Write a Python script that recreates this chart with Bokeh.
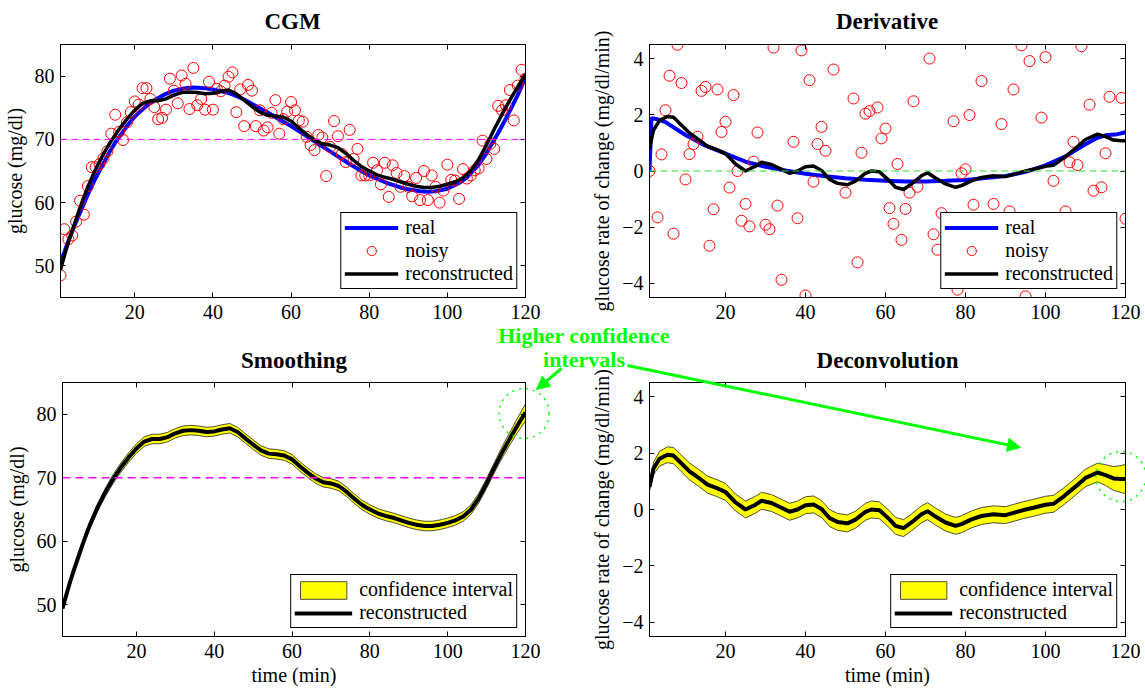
from bokeh.plotting import figure
from bokeh.models import (Range1d, LinearAxis, FixedTicker, Span, Label, Arrow,
                          NormalHead, GridBox, CustomJSTickFormatter)
from bokeh.embed import file_html
from bokeh.resources import INLINE

# ---------------- data ----------------
panel_titles = ["CGM", "Derivative", "Smoothing", "Deconvolution"]
x_ticks = [20, 40, 60, 80, 100, 120]
gluc_ticks = [50, 60, 70, 80]
deriv_ticks = [-4, -2, 0, 2, 4]
hypo_threshold = 70

# real glucose
real_t = [1, 3, 5, 8, 10, 13, 15, 18, 20, 23, 25, 28, 30, 33, 35, 38, 40, 43, 45, 48, 50,
          53, 55, 58, 60, 63, 65, 68, 70, 73, 75, 78, 80, 83, 85, 88, 90, 93, 95, 97, 100,
          103, 105, 108, 110, 113, 115, 118, 120]
real_g = [50.5, 53.9, 57.0, 61.3, 63.9, 67.4, 69.5, 72.1, 73.6, 75.3, 76.2, 77.2, 77.7, 78.1,
          78.2, 78.1, 77.9, 77.5, 77.1, 76.3, 75.6, 74.6, 73.9, 72.8, 72.1, 70.9, 70.1, 68.9,
          68.1, 66.9, 66.1, 65.0, 64.3, 63.5, 63.0, 62.4, 62.1, 61.8, 61.7, 61.8, 62.2, 63.1,
          64.0, 66.0, 67.8, 71.0, 73.3, 77.0, 79.8]

# noisy glucose, one sample per minute (1..120)
noisy_t = list(range(1, 121))
noisy_g = [48.5, 55.8, 54.2, 54.8, 57.0, 60.3, 58.1, 62.6, 65.6, 65.6,
           66.1, 67.0, 68.1, 70.9, 73.9, 71.2, 69.9, 72.7, 74.3, 76.0,
           75.5, 78.1, 78.1, 76.4, 75.1, 73.2, 73.4, 74.7, 79.6, 77.7,
           75.7, 80.1, 78.8, 74.8, 81.3, 75.4, 76.4, 74.7, 79.1, 74.7,
           78.0, 77.6, 78.5, 79.9, 80.6, 74.3, 77.9, 72.1, 78.6, 77.7,
           72.1, 74.6, 71.4, 71.9, 74.2, 76.2, 70.9, 73.2, 74.4, 75.9,
           74.6, 73.0, 72.8, 70.4, 69.1, 68.3, 70.7, 70.3, 64.2, 68.8,
           72.9, 70.5, 67.7, 66.4, 71.5, 66.9, 68.5, 64.3, 64.3, 64.3,
           66.3, 65.1, 62.9, 66.3, 60.9, 65.9, 64.7, 62.5, 64.2, 62.5,
           61.0, 63.9, 60.4, 65.0, 60.4, 64.3, 62.5, 60.0, 61.9, 66.0,
           63.6, 63.5, 60.6, 65.3, 63.8, 64.3, 65.1, 65.4, 69.8, 66.9,
           69.3, 68.5, 75.3, 74.6, 75.4, 77.8, 73.0, 78.5, 81.0, 79.6]

# reconstructed glucose (smoothing) and its confidence half-width
rec_t = [1, 2, 3, 4, 5, 6, 7, 8, 10, 12, 14, 16, 18, 20, 22, 24, 26, 28, 30, 32, 34, 36,
         38, 40, 42, 44, 46, 48, 50, 52, 54, 56, 58, 60, 62, 64, 66, 68, 70, 72, 74, 76,
         78, 80, 82, 84, 86, 88, 90, 92, 94, 96, 98, 100, 102, 104, 106, 108, 110, 112,
         114, 116, 118, 120]
rec_g = [49.4, 51.6, 53.7, 55.6, 57.4, 59.2, 60.9, 62.5, 65.3, 67.7, 69.8, 71.6, 73.2, 74.6,
         75.7, 76.1, 76.1, 76.4, 77.0, 77.4, 77.5, 77.4, 77.2, 77.3, 77.6, 77.8, 77.2, 76.2,
         75.2, 74.3, 73.8, 73.7, 73.5, 72.9, 71.8, 70.8, 69.9, 69.3, 69.1, 68.7, 67.8, 66.7,
         65.7, 65.0, 64.4, 64.0, 63.7, 63.3, 62.9, 62.6, 62.4, 62.4, 62.6, 62.9, 63.3, 63.9,
         65.0, 66.8, 69.1, 71.6, 74.0, 76.2, 78.3, 80.3]
rec_g_ci = [0.2, 0.25, 0.3, 0.35, 0.4, 0.45, 0.5, 0.55, 0.6, 0.65, 0.7, 0.72, 0.75, 0.75,
            0.75, 0.75, 0.75, 0.75, 0.75, 0.75, 0.75, 0.75, 0.75, 0.75, 0.75, 0.75, 0.75, 0.75,
            0.75, 0.75, 0.75, 0.75, 0.75, 0.75, 0.75, 0.75, 0.75, 0.75, 0.75, 0.75, 0.75, 0.75,
            0.75, 0.75, 0.75, 0.75, 0.75, 0.75, 0.75, 0.75, 0.75, 0.75, 0.75, 0.75, 0.75, 0.75,
            0.75, 0.76, 0.78, 0.8, 0.9, 1.0, 1.15, 1.35]

# real derivative
rd_t = [1, 1.5, 3, 5, 10, 15, 20, 25, 30, 35, 40, 45, 50, 55, 60, 65, 70, 75, 80, 85, 90,
        95, 100, 105, 110, 113, 115, 118, 120]
rd_v = [0.0, 1.88, 1.84, 1.74, 1.28, 0.9, 0.62, 0.33, 0.15, 0.02, -0.1, -0.19, -0.26, -0.31,
        -0.35, -0.37, -0.37, -0.35, -0.32, -0.25, -0.18, -0.03, 0.2, 0.52, 0.95, 1.18, 1.27,
        1.31, 1.38]

# noisy derivative (points inside the visible range)
nd_t = [1, 3, 4, 5, 6, 7, 8, 9, 10, 11, 12, 13, 14, 15, 16, 17, 18, 19, 20, 21, 22, 23, 24,
        25, 26, 27, 28, 30, 31, 32, 33, 34, 37, 38, 39, 40, 41, 42, 43, 44, 45, 47, 50, 52,
        53, 54, 55, 56, 58, 59, 60, 61, 62, 63, 64, 65, 66, 67, 68, 71, 72, 73, 74, 77, 78,
        79, 80, 81, 82, 84, 87, 89, 91, 92, 94, 95, 96, 99, 100, 102, 105, 106, 107, 108,
        109, 111, 112, 114, 115, 116, 119, 120]
nd_v = [0.0, -1.65, 0.59, 2.16, 3.39, -2.23, 4.49, 3.13, -0.30, 0.60, 0.96, 1.22, 2.85, 2.99,
        -2.66, -1.36, 2.90, 1.39, 1.75, -0.59, 2.70, 0.0, -1.77, -1.17, -1.97, 0.33, 1.37,
        -1.91, -2.07, 4.39, -1.23, -3.87, 1.04, -1.68, 4.29, -4.43, 3.23, -0.38, 0.96, 1.57,
        0.72, 3.61, -0.77, 2.58, -3.25, 0.65, 2.04, 2.13, 2.26, 1.16, 1.51, -1.32, -1.88,
        0.25, -2.45, -1.35, -0.77, 2.48, -0.56, 4.0, -2.25, -2.8, -1.5, 1.77, -4.22, -0.08,
        0.06, 1.99, -1.2, 3.2, -1.17, 1.67, -1.44, 2.9, 4.47, -4.46, 3.91, 1.9, 4.05, -0.35,
        -1.44, 0.31, 1.04, 0.21, 4.44, 2.36, -0.7, -0.58, 0.63, 2.64, 2.6, -1.7]

# reconstructed derivative (deconvolution) and confidence half-width
dr_t = [1, 2, 3.5, 5.5, 7, 8.5, 11, 13.5, 15.5, 18, 20, 22.5, 25, 27.5, 29, 31.5, 34, 36,
        38, 40, 42, 44, 46, 48, 50.5, 52.5, 55, 56.5, 58.5, 61, 62.5, 64.5, 66.5, 69, 70.5,
        72.5, 75, 77.5, 79, 81.5, 84, 87, 90, 92, 94.5, 97, 100, 102, 104.5, 107.5, 110,
        113, 115, 117, 119, 120]
dr_v = [0.8, 1.45, 1.8, 1.94, 1.91, 1.7, 1.35, 1.1, 0.88, 0.75, 0.62, 0.25, 0.0, 0.17,
        0.31, 0.23, 0.06, -0.08, 0.0, 0.15, 0.18, 0.02, -0.3, -0.44, -0.49, -0.36, -0.08,
        0.0, -0.03, -0.35, -0.58, -0.66, -0.46, -0.17, -0.06, -0.25, -0.46, -0.58, -0.52,
        -0.35, -0.23, -0.17, -0.2, -0.12, -0.02, 0.06, 0.17, 0.2, 0.46, 0.81, 1.12, 1.31,
        1.22, 1.1, 1.08, 1.08]
dr_ci = [0.15, 0.22, 0.26, 0.28, 0.29, 0.29, 0.3, 0.3, 0.3, 0.3, 0.3, 0.3, 0.3, 0.3, 0.3,
         0.3, 0.3, 0.3, 0.3, 0.3, 0.3, 0.3, 0.3, 0.3, 0.3, 0.3, 0.3, 0.3, 0.3, 0.3, 0.3, 0.3,
         0.3, 0.3, 0.3, 0.3, 0.3, 0.3, 0.3, 0.3, 0.3, 0.3, 0.3, 0.3, 0.3, 0.3, 0.3, 0.3, 0.3,
         0.3, 0.31, 0.33, 0.37, 0.42, 0.48, 0.52]

# ---------------- styling ----------------
FONT = "Liberation Serif"
BLUE, RED, GREEN, BLACK = "#0000ff", "#ff0000", "#00ff00", "#000000"
MAGENTA, YELLOW = "#ff00ff", "#ffff00"
MINUS = CustomJSTickFormatter(code="return String(tick).replace('-', '\u2212');")
EMPTY = CustomJSTickFormatter(code="return '';")


def panel(w, h, borders, yrange, yticks, ylabel, xlabel=None):
    bl, br, bt, bb = borders
    p = figure(width=w, height=h, x_range=Range1d(1, 120),
               y_range=Range1d(*yrange), output_backend="svg", toolbar_location=None,
               min_border_left=bl, min_border_right=br, min_border_top=bt,
               min_border_bottom=bb, frame_align=False)
    p.xgrid.visible = False
    p.ygrid.visible = False
    p.outline_line_color = BLACK
    p.outline_line_alpha = 1
    p.background_fill_color = "white"
    p.border_fill_color = "white"
    xa, ya = p.xaxis[0], p.yaxis[0]
    xa.ticker = FixedTicker(ticks=x_ticks)
    ya.ticker = FixedTicker(ticks=yticks)
    ya.formatter = MINUS
    for ax in (xa, ya):
        ax.major_tick_in = 5
        ax.major_tick_out = 0
        ax.minor_tick_line_color = None
        ax.axis_line_color = BLACK
        ax.major_tick_line_color = BLACK
        ax.major_label_text_font = FONT
        ax.major_label_text_font_size = "20px"
        ax.major_label_text_color = BLACK
        ax.axis_label_text_font = FONT
        ax.axis_label_text_font_size = "20px"
        ax.axis_label_text_font_style = "normal"
        ax.axis_label_text_color = BLACK
    xa.major_label_standoff = 7
    ya.major_label_standoff = 6
    ya.axis_label = ylabel
    ya.axis_label_standoff = 6
    if xlabel:
        xa.axis_label = xlabel
        xa.axis_label_standoff = 3
    for loc, tk in (("above", x_ticks), ("right", yticks)):
        a = LinearAxis(ticker=FixedTicker(ticks=tk), formatter=EMPTY, major_tick_in=5,
                       major_tick_out=0, minor_tick_line_color=None,
                       major_label_text_font_size="0px", major_label_standoff=0,
                       axis_line_color=BLACK, major_tick_line_color=BLACK)
        p.add_layout(a, loc)
    return p


def style_legend(p, gw, gh):
    lg = p.legend[0]
    lg.location = "bottom_right"
    lg.margin = 8
    lg.padding = 3
    lg.spacing = 0
    lg.label_standoff = 7
    lg.glyph_width = gw
    lg.glyph_height = gh
    lg.label_height = 22
    lg.label_text_font = FONT
    lg.label_text_font_size = "20px"
    lg.label_text_color = BLACK
    lg.border_line_color = BLACK
    lg.border_line_width = 1
    lg.border_line_alpha = 1
    lg.background_fill_color = "white"
    lg.background_fill_alpha = 1


# ---- CGM ----
p1 = panel(560, 330, (59, 35, 44, 33), (45, 85), gluc_ticks, "glucose (mg/dl)")
p1.add_layout(Span(location=hypo_threshold, dimension="width", line_color=MAGENTA,
                   line_dash="7 4", line_width=1))
p1.line(real_t, real_g, line_color=BLUE, line_width=4, legend_label="real")
p1.scatter(noisy_t, noisy_g, marker="circle", size=11, fill_color=None, line_color=RED,
           line_width=1, legend_label="noisy")
p1.line(rec_t, rec_g, line_color=BLACK, line_width=3.5, legend_label="reconstructed")
style_legend(p1, 54, 23)

# ---- Derivative ----
p2 = panel(585, 330, (89, 20, 44, 33), (-4.5, 4.5), deriv_ticks,
           "glucose rate of change (mg/dl/min)")
p2.line(rd_t, rd_v, line_color=BLUE, line_width=4, legend_label="real")
p2.scatter(nd_t, nd_v, marker="circle", size=11, fill_color=None, line_color=RED,
           line_width=1, legend_label="noisy")
p2.line(dr_t, dr_v, line_color=BLACK, line_width=3.5, legend_label="reconstructed")
p2.add_layout(Span(location=0, dimension="width", line_color="#33dd33",
                   line_dash="7 4", line_width=1))
style_legend(p2, 54, 23)

# ---- Smoothing ----
p3 = panel(560, 358, (62, 35, 52, 52), (45, 85), gluc_ticks,
           "glucose (mg/dl)", "time (min)")
up3 = [g + c for g, c in zip(rec_g, rec_g_ci)]
lo3 = [g - c for g, c in zip(rec_g, rec_g_ci)]
p3.patch(rec_t + rec_t[::-1], up3 + lo3[::-1], fill_color=YELLOW, line_color="#222222",
         line_width=0.8, legend_label="confidence interval")
p3.line(rec_t, rec_g, line_color=BLACK, line_width=4, legend_label="reconstructed")
p3.add_layout(Span(location=hypo_threshold, dimension="width", line_color=MAGENTA,
                   line_dash="8 5", line_width=1.5))
style_legend(p3, 58, 22)

# ---- Deconvolution ----
p4 = panel(585, 358, (89, 20, 52, 47), (-4.5, 4.5), deriv_ticks,
           "glucose rate of change (mg/dl/min)", "time (min)")
up4 = [v + c for v, c in zip(dr_v, dr_ci)]
lo4 = [v - c for v, c in zip(dr_v, dr_ci)]
p4.patch(dr_t + dr_t[::-1], up4 + lo4[::-1], fill_color=YELLOW, line_color="#222222",
         line_width=0.8, legend_label="confidence interval")
p4.line(dr_t, dr_v, line_color=BLACK, line_width=4, legend_label="reconstructed")
style_legend(p4, 58, 22)

# ---- overlay: panel titles and the annotation (page pixel coordinates) ----
ov = figure(width=1145, height=688, x_range=Range1d(0, 1145), y_range=Range1d(688, 0),
            output_backend="svg", toolbar_location=None, min_border=0,
            min_border_left=0, min_border_right=0, min_border_top=0, min_border_bottom=0,
            x_axis_location=None, y_axis_location=None, frame_align=False,
            border_fill_color=None, background_fill_color=None, outline_line_color=None)
ov.xgrid.visible = False
ov.ygrid.visible = False
for txt, (tx, ty) in zip(panel_titles, ((292, 20.5), (886.5, 20.5), (293.5, 359.7),
                                        (887, 360.3))):
    ov.add_layout(Label(x=tx, y=ty, text=txt, text_align="center",
                        text_baseline="middle", text_font=FONT, text_font_size="23px",
                        text_font_style="bold", text_color=BLACK))
for txt, yy in (("Higher confidence", 334.7), ("intervals", 359.2)):
    ov.add_layout(Label(x=583.5, y=yy, text=txt, text_align="center",
                        text_baseline="middle", text_font=FONT, text_font_size="22px",
                        text_font_style="bold", text_color=GREEN))
for (xs, ys, xe, ye) in ((561, 368, 536, 389), (627, 365, 1020, 447)):
    ov.add_layout(Arrow(x_start=xs, y_start=ys, x_end=xe, y_end=ye, line_color=GREEN,
                        line_width=3,
                        end=NormalHead(size=13, fill_color=GREEN, line_color=GREEN,
                                       line_width=1)))
ov.scatter([523.6, 1120.5], [413, 476], marker="circle", size=50, fill_color=None,
           line_color=GREEN, line_width=1.5, line_dash="2 5")

grid = GridBox(children=[(p1, 0, 0), (p2, 0, 1), (p3, 1, 0), (p4, 1, 1),
                         (ov, 0, 0, 2, 2)])

open("out.html", "w").write(file_html(grid, INLINE))
